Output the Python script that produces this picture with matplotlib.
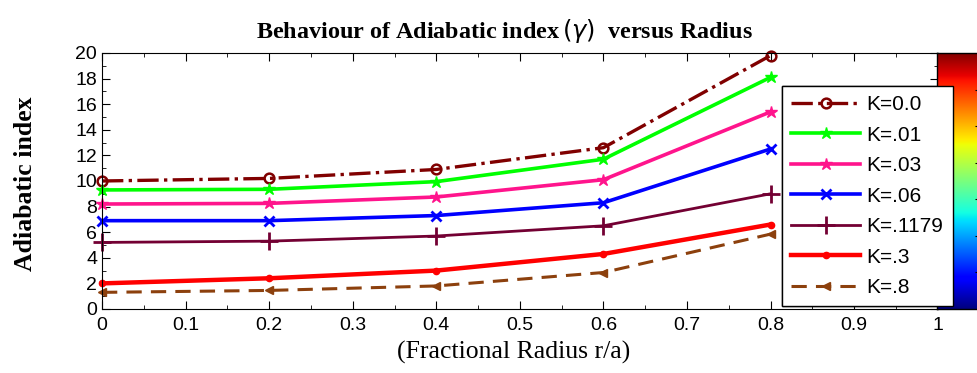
import numpy as np
import matplotlib
matplotlib.use("Agg")
import matplotlib.pyplot as plt
from matplotlib.ticker import MultipleLocator

# data
radius = [0, 0.2, 0.4, 0.6, 0.8]
labels = ["K=0.0", "K=.01", "K=.03", "K=.06", "K=.1179", "K=.3", "K=.8"]
k_000 = [10.0, 10.2, 10.9, 12.6, 19.8]
k_001 = [9.3, 9.35, 9.95, 11.7, 18.1]
k_003 = [8.2, 8.25, 8.75, 10.1, 15.4]
k_006 = [6.9, 6.9, 7.3, 8.3, 12.5]
k_1179 = [5.2, 5.3, 5.7, 6.5, 9.0]
k_03 = [2.0, 2.4, 3.0, 4.3, 6.6]
k_08 = [1.3, 1.45, 1.8, 2.85, 5.85]
xticks = [0, 0.1, 0.2, 0.3, 0.4, 0.5, 0.6, 0.7, 0.8, 0.9, 1]
xtick_labels = ["0", "0.1", "0.2", "0.3", "0.4", "0.5", "0.6", "0.7", "0.8", "0.9", "1"]

series = [k_000, k_001, k_003, k_006, k_1179, k_03, k_08]
styles = [
    dict(color=(0.5, 0.0, 0.0), ls="-.", marker="o", mfc="none", lw=2.4, ms=7, mew=1.8),
    dict(color=(0.0, 1.0, 0.0), ls="-", marker="*", lw=2.6, ms=9),
    dict(color=(1.0, 0.08, 0.55), ls="-", marker="*", lw=2.6, ms=9),
    dict(color=(0.0, 0.0, 1.0), ls="-", marker="x", lw=2.6, ms=7, mew=2),
    dict(color=(0.45, 0.0, 0.2), ls="-", marker="+", lw=2.0, ms=13, mew=2),
    dict(color=(1.0, 0.0, 0.0), ls="-", marker=".", lw=3.2, ms=9),
    dict(color=(0.55, 0.25, 0.05), ls=(0, (5, 3)), marker="<", lw=2.2, ms=6),
]

tick_font = ["Liberation Sans Narrow", "Liberation Sans", "DejaVu Sans"]
serif_font = ["Liberation Serif", "DejaVu Serif"]

fig = plt.figure(figsize=(9.78, 3.73), dpi=100)
ax = fig.add_axes([0.1043, 0.1716, 0.8545, 0.6864])

for y, lab, st in zip(series, labels, styles):
    ax.plot(radius, y, label=lab, clip_on=False, **st)

ax.set_xlim(0, 1)
ax.set_ylim(0, 20)
ax.set_xticks(xticks, xtick_labels)
ax.xaxis.set_minor_locator(MultipleLocator(0.05))
ax.yaxis.set_major_locator(MultipleLocator(2))
ax.yaxis.set_minor_locator(MultipleLocator(1))
ax.tick_params(which="both", direction="in", top=True, right=True)
ax.tick_params(which="major", length=6, labelsize=14)
ax.tick_params(which="minor", length=3)
ax.tick_params(axis="x", pad=6)
for t in ax.get_xticklabels() + ax.get_yticklabels():
    t.set_family(tick_font)

ax.set_title("Behaviour of Adiabatic index$\\,(\\gamma)$  versus Radius",
             family=serif_font, fontweight="bold", fontsize=17.4, pad=11, x=0.482)
ax.set_xlabel("(Fractional Radius r/a)", family=serif_font, fontsize=18.5)
ax.xaxis.set_label_coords(0.492, -0.125)
ax.set_ylabel("Adiabatic index", family=serif_font, fontweight="bold", fontsize=18.5)
ax.yaxis.set_label_coords(-0.078, 0.49)

leg = ax.legend(loc="lower right", bbox_to_anchor=(1.018, 0.01), fancybox=False,
                edgecolor="black", framealpha=1, handlelength=3.3, borderaxespad=0,
                prop={"family": ["Liberation Sans", "DejaVu Sans"], "size": 15},
                labelspacing=0.55, borderpad=0.45, handletextpad=0.3)
leg.get_frame().set_linewidth(1.0)

# jet colour strip at the right edge
cax = fig.add_axes([0.958, 0.1716, 0.045, 0.6864])
cax.imshow(np.linspace(1, 0, 256).reshape(-1, 1), cmap="jet", aspect="auto",
           extent=[0, 1, 0, 1])
cax.set_xticks([])
cax.set_yticks(np.linspace(0, 1, 8)[1:-1])
cax.tick_params(axis="y", direction="in", length=4, labelleft=False, labelright=False,
                left=False, right=True)
for s in cax.spines.values():
    s.set_linewidth(1.0)
leg.set_zorder(10)
fig.add_artist(leg)

fig.savefig("out.png", dpi=100)
